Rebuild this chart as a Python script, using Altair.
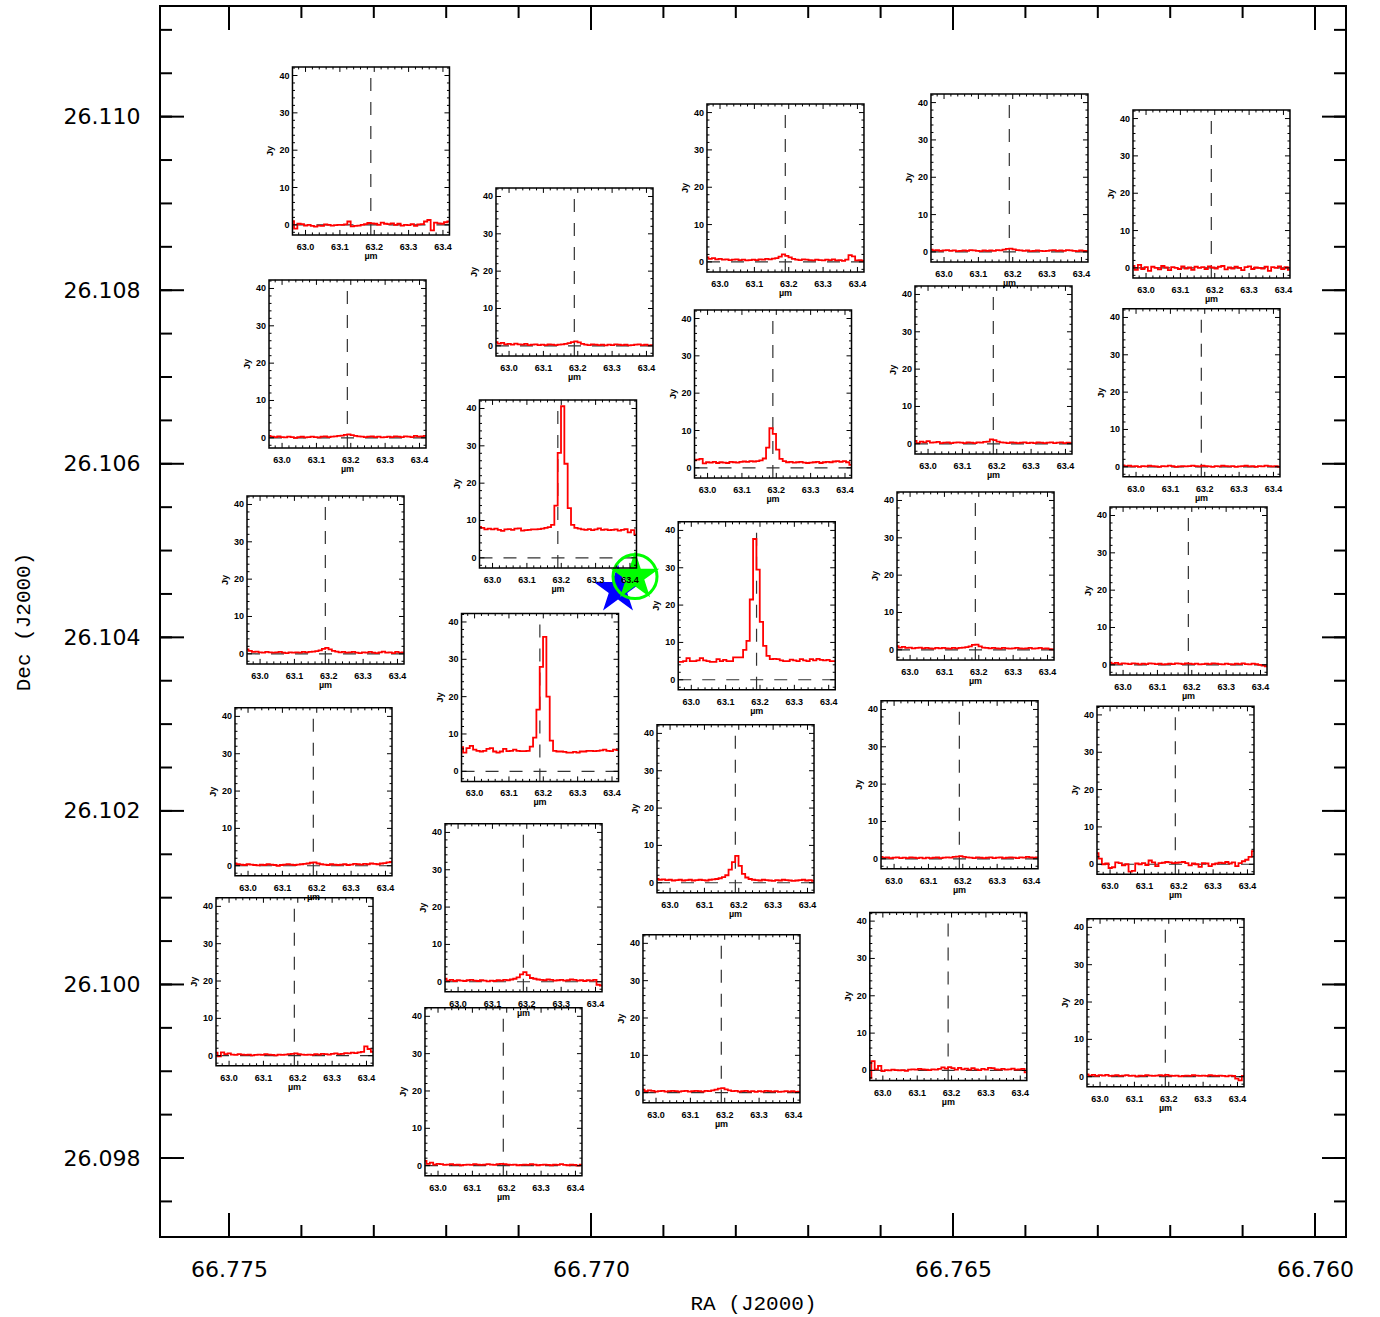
import altair as alt
import pandas as pd

# ---------------- main frame (sky coordinates) ----------------
RA_LEFT, RA_RIGHT = 66.775953, 66.759572
DEC_TOP, DEC_BOTTOM = 26.111275, 26.097090
PLOT_W, PLOT_H = 1186, 1231

RA_MAJOR = [66.775, 66.770, 66.765, 66.760]
RA_MINOR = [round(66.760 + 0.001 * k, 3) for k in range(16)]
DEC_MAJOR = [26.098, 26.100, 26.102, 26.104, 26.106, 26.108, 26.110]
DEC_MINOR = [round(26.0975 + 0.0005 * k, 4) for k in range(28)]

# ---------------- spaxel positions ----------------
SPAXELS = ["A1", "A2", "A3", "A4", "A5",
           "B1", "B2", "B3", "B4", "B5",
           "C1", "C2", "C3", "C4", "C5",
           "D1", "D2", "D3", "D4", "D5",
           "E1", "E2", "E3", "E4", "E5"]
SPAXEL_RA = [66.773039, 66.773363, 66.773667, 66.773833, 66.774095,
             66.770228, 66.770456, 66.770704, 66.770932, 66.771209,
             66.767314, 66.767486, 66.767711, 66.768004, 66.768198,
             66.764220, 66.764441, 66.764689, 66.764910, 66.765065,
             66.761430, 66.761568, 66.761747, 66.761927, 66.762065]
SPAXEL_DEC = [26.109605, 26.107151, 26.104662, 26.102220, 26.100031,
              26.108211, 26.105768, 26.103308, 26.100883, 26.098764,
              26.109178, 26.106805, 26.104363, 26.102024, 26.099605,
              26.109293, 26.107082, 26.104708, 26.102300, 26.099861,
              26.109109, 26.106817, 26.104535, 26.102237, 26.099789]

# sources
BLUE_RA, BLUE_DEC = [66.769627], [26.104547]
GREEN_RA, GREEN_DEC = [66.769392], [26.104700]

# ---------------- spectra ----------------
WAVE_EDGES = [62.9620,
              62.9665, 62.9762, 62.9859, 62.9956, 63.0053, 63.0150, 63.0247, 63.0344,
              63.0441, 63.0538, 63.0635, 63.0732, 63.0829, 63.0926, 63.1023, 63.1120,
              63.1217, 63.1314, 63.1411, 63.1508, 63.1605, 63.1702, 63.1799, 63.1896,
              63.1993, 63.2090, 63.2187, 63.2284, 63.2381, 63.2478, 63.2575, 63.2672,
              63.2769, 63.2866, 63.2963, 63.3060, 63.3157, 63.3254, 63.3351, 63.3448,
              63.3545, 63.3642, 63.3739, 63.3836, 63.3933, 63.4030, 63.4127,
              63.4190]
LINE_WAVE = 63.19

FLUX = {
    "A1": [1.0, -1.0, 0.3, 0.2, -0.2, 0.0, -0.3, -0.5,
           -0.2, -0.3, 0.1, 0.0, -0.2, -0.1, 0.0, 0.0,
           0.1, 0.9, -0.4, -0.3, -0.2, 0.0, 0.2, 0.5,
           0.4, 0.3, 0.0, 0.6, 0.3, 0.2, 0.4, 0.0,
           0.3, -0.2, 0.0, -0.1, 0.2, -0.3, 0.1, 0.2,
           0.9, 1.3, -1.5, 0.6, 0.4, 0.3, 0.7, 0.9],
    "A2": [0.5, 0.3, 0.2, 0.4, 0.2, 0.1, 0.3, 0.2,
           0.0, 0.2, 0.3, 0.1, 0.2, 0.3, 0.2, 0.1,
           0.3, 0.4, 0.2, 0.3, 0.4, 0.5, 0.6, 0.8,
           0.9, 0.7, 0.5, 0.4, 0.3, 0.2, 0.3, 0.4,
           0.2, 0.3, 0.1, 0.2, 0.3, 0.2, 0.4, 0.3,
           0.2, 0.4, 0.3, 0.2, 0.5, 0.3, 0.4, 0.5],
    "A3": [1.2, 0.8, 0.5, 0.6, 0.4, 0.3, 0.5, 0.4,
           0.3, 0.4, 0.5, 0.3, 0.2, 0.4, 0.3, 0.4,
           0.3, 0.5, 0.4, 0.5, 0.6, 0.7, 0.9, 1.3,
           1.6, 1.2, 0.8, 0.6, 0.4, 0.5, 0.3, 0.4,
           0.5, 0.3, 0.2, 0.4, 0.3, 0.5, 0.3, 0.2,
           0.4, 0.6, 0.3, 0.4, 0.2, 0.5, 0.3, 0.4],
    "A4": [0.6, 0.4, 0.3, 0.2, 0.4, 0.3, 0.2, 0.1,
           0.3, 0.2, 0.4, 0.3, 0.2, 0.0, 0.2, 0.3,
           0.4, 0.3, 0.2, 0.3, 0.4, 0.5, 0.6, 0.8,
           0.9, 0.6, 0.4, 0.3, 0.2, 0.4, 0.3, 0.2,
           0.3, 0.4, 0.2, 0.3, 0.5, 0.4, 0.3, 0.5,
           0.4, 0.6, 0.5, 0.4, 0.6, 0.7, 0.9, 1.0],
    "A5": [0.8, -0.2, 0.9, 0.4, 0.6, 0.3, 0.2, 0.4,
           0.3, 0.2, 0.3, 0.1, 0.2, 0.3, 0.2, 0.4,
           0.3, 0.2, 0.1, 0.3, 0.2, 0.3, 0.4, 0.5,
           0.6, 0.4, 0.3, 0.2, 0.3, 0.2, 0.4, 0.3,
           0.5, 0.4, 0.3, 0.5, 0.6, 0.4, 0.5, 0.7,
           0.6, 0.8, 0.7, 0.9, 1.0, 2.5, 1.8, 1.0],
    "B1": [1.0, 0.6, 0.8, 0.4, 0.5, 0.3, 0.6, 0.4,
           0.3, 0.5, 0.2, 0.3, 0.4, 0.2, 0.3, 0.2,
           0.4, 0.3, 0.2, 0.3, 0.4, 0.5, 0.7, 1.0,
           1.2, 0.9, 0.5, 0.3, 0.2, 0.4, 0.3, 0.2,
           0.3, 0.1, 0.3, 0.2, 0.4, 0.3, 0.2, 0.3,
           0.1, 0.2, 0.3, 0.4, 0.2, 0.3, 0.1, 0.2],
    "B2": [8.3, 8.0, 7.6, 7.8, 7.6, 7.8, 7.5, 7.2,
           7.6, 7.7, 7.5, 7.8, 7.9, 7.3, 7.4, 7.5,
           7.6, 7.6, 7.7, 7.8, 8.0, 8.2, 8.8, 14.0,
           28.1, 40.6, 25.2, 13.3, 8.8, 8.0, 7.8, 7.6,
           7.5, 7.7, 7.4, 7.6, 7.9, 7.5, 7.6, 7.4,
           7.5, 7.6, 7.3, 7.5, 7.7, 6.8, 7.4, 6.2],
    "B3": [6.5, 5.0, 6.2, 6.8, 5.8, 5.5, 5.3, 5.5,
           6.0, 6.2, 5.3, 5.0, 5.3, 6.0, 5.4, 5.5,
           5.8, 5.5, 5.4, 5.4, 5.5, 6.6, 9.0, 16.5,
           28.0, 36.0, 20.0, 8.2, 5.5, 5.3, 5.3, 5.2,
           5.0, 5.0, 5.2, 5.0, 5.3, 5.3, 5.5, 5.5,
           5.4, 5.5, 5.6, 5.8, 5.5, 5.4, 5.8, 5.7],
    "B4": [0.8, 0.3, 0.5, 0.2, 0.4, 0.3, 0.2, 0.4,
           0.5, 0.3, 0.2, 0.4, 0.3, 0.1, 0.3, 0.2,
           0.4, 0.3, 0.5, 0.4, 0.6, 0.8, 1.2, 2.0,
           2.6, 1.8, 1.0, 0.8, 0.6, 0.5, 0.4, 0.6,
           0.5, 0.3, 0.4, 0.5, 0.3, 0.4, 0.6, 0.5,
           0.3, 0.4, 0.2, 0.4, 0.3, 0.5, -0.8, -1.0],
    "B5": [1.3, 0.5, 0.8, 0.3, 0.5, 0.4, 0.2, 0.3,
           0.4, 0.2, 0.3, 0.1, 0.2, 0.3, 0.2, 0.4,
           0.3, 0.2, 0.3, 0.4, 0.3, 0.2, 0.4, 0.5,
           0.4, 0.3, 0.2, 0.3, 0.1, 0.2, 0.3, 0.2,
           0.4, 0.3, 0.1, 0.2, 0.3, 0.2, 0.1, 0.3,
           0.2, 0.4, 0.2, 0.1, 0.3, 0.2, 0.0, 0.3],
    "C1": [1.2, 0.8, 1.0, 0.7, 0.8, 0.6, 0.7, 0.5,
           0.6, 0.7, 0.5, 0.6, 0.4, 0.5, 0.6, 0.5,
           0.7, 0.6, 0.8, 0.7, 0.9, 1.0, 1.4, 2.0,
           1.6, 1.2, 0.8, 0.6, 0.5, 0.7, 0.6, 0.5,
           0.4, 0.6, 0.5, 0.4, 0.6, 0.5, 0.7, 0.4,
           0.5, 0.3, 0.6, 1.8, 1.5, 0.4, 0.5, 0.3],
    "C2": [2.0, 2.2, 2.4, 1.2, 1.5, 1.4, 1.6, 1.3,
           1.5, 1.4, 1.3, 1.6, 1.5, 1.4, 1.6, 1.7,
           1.6, 1.8, 1.7, 1.8, 2.0, 2.5, 5.4, 10.6,
           9.1, 4.9, 2.4, 1.8, 1.5, 1.6, 1.4, 1.5,
           1.6, 1.4, 1.3, 1.4, 1.5, 1.6, 1.3, 1.5,
           1.6, 1.5, 1.7, 1.8, 1.6, 1.8, 1.5, 0.8],
    "C3": [4.8, 4.8, 5.0, 5.8, 5.0, 5.0, 5.2, 5.8,
           5.2, 5.0, 4.8, 4.8, 5.5, 5.0, 5.3, 5.0,
           5.0, 6.0, 6.0, 6.0, 8.0, 10.4, 21.5, 37.7,
           29.5, 15.5, 9.1, 6.4, 5.5, 5.6, 5.5, 5.2,
           5.0, 5.0, 5.4, 5.2, 5.0, 5.5, 5.2, 5.0,
           5.5, 5.2, 5.6, 5.3, 5.2, 5.3, 5.0, 5.0],
    "C4": [1.0, 0.8, 0.9, 0.7, 0.8, 0.6, 0.7, 0.8,
           0.6, 0.7, 0.8, 0.6, 0.7, 0.8, 0.7, 0.6,
           0.8, 0.9, 1.0, 1.2, 1.5, 2.0, 3.5, 5.5,
           7.2, 4.5, 2.4, 1.4, 1.0, 0.8, 0.7, 0.6,
           0.8, 0.7, 0.6, 0.5, 0.7, 0.6, 0.8, 0.7,
           0.6, 0.5, 0.6, 0.7, 0.8, 0.6, 0.7, 0.5],
    "C5": [0.8, 0.4, 0.6, 0.5, 0.3, 0.4, 0.5, 0.3,
           0.4, 0.5, 0.4, 0.3, 0.4, 0.5, 0.3, 0.4,
           0.5, 0.4, 0.3, 0.5, 0.4, 0.6, 0.8, 1.1,
           1.2, 0.9, 0.6, 0.4, 0.5, 0.3, 0.4, 0.5,
           0.3, 0.4, 0.2, 0.4, 0.3, 0.5, 0.4, 0.3,
           0.4, 0.2, 0.3, 0.4, 0.3, 0.4, 0.2, 0.3],
    "D1": [0.6, 0.4, 0.5, 0.3, 0.4, 0.5, 0.3, 0.4,
           0.2, 0.3, 0.4, 0.3, 0.5, 0.4, 0.3, 0.2,
           0.4, 0.3, 0.4, 0.3, 0.5, 0.4, 0.6, 0.8,
           0.9, 0.7, 0.5, 0.4, 0.3, 0.4, 0.2, 0.3,
           0.4, 0.3, 0.2, 0.3, 0.4, 0.5, 0.3, 0.4,
           0.3, 0.5, 0.4, 0.3, 0.2, 0.4, 0.3, 0.2],
    "D2": [0.8, 0.2, 0.6, 0.4, 0.7, 0.3, 0.4, 0.5,
           0.2, 0.3, 0.4, 0.2, 0.3, 0.4, 0.3, 0.2,
           0.4, 0.3, 0.2, 0.4, 0.3, 0.5, 0.6, 1.2,
           1.0, 0.6, 0.4, 0.3, 0.2, 0.4, 0.3, 0.2,
           0.3, 0.4, 0.2, 0.3, 0.2, 0.4, 0.3, 0.2,
           0.3, 0.4, 0.2, 0.3, 0.4, 0.2, 0.3, 0.2],
    "D3": [1.0, 0.6, 0.8, 0.5, 0.6, 0.4, 0.5, 0.6,
           0.4, 0.5, 0.4, 0.3, 0.5, 0.4, 0.5, 0.4,
           0.3, 0.5, 0.4, 0.5, 0.6, 0.7, 0.9, 1.3,
           1.4, 0.9, 0.6, 0.5, 0.4, 0.5, 0.4, 0.3,
           0.5, 0.4, 0.3, 0.4, 0.5, 0.4, 0.3, 0.4,
           0.5, 0.3, 0.4, 0.5, 0.3, 0.4, 0.2, 0.1],
    "D4": [0.5, 0.3, 0.4, 0.2, 0.3, 0.4, 0.2, 0.3,
           0.2, 0.4, 0.3, 0.2, 0.3, 0.1, 0.3, 0.2,
           0.3, 0.4, 0.2, 0.3, 0.4, 0.3, 0.5, 0.6,
           0.7, 0.5, 0.4, 0.3, 0.2, 0.4, 0.3, 0.2,
           0.3, 0.4, 0.2, 0.3, 0.4, 0.2, 0.3, 0.4,
           0.3, 0.2, 0.4, 0.3, 0.5, 0.4, 0.3, 0.4],
    "D5": [-2.0, 2.5, 0.3, 1.2, -0.2, 0.1, 0.0, 0.2,
           0.1, 0.0, 0.1, -0.1, 0.2, 0.3, 0.2, 0.4,
           0.3, 0.2, 0.1, 0.3, 0.2, 0.4, 0.8, 0.5,
           0.9, 0.6, 0.2, 0.7, 0.3, 0.5, 0.2, 0.6,
           0.3, 0.1, 0.4, 0.2, 0.7, 0.6, 0.3, 0.2,
           0.4, 0.2, 0.3, 0.5, 0.2, 0.3, 0.4, -0.5],
    "E1": [0.5, -0.5, 0.8, -0.3, 0.2, -0.8, 0.3, 0.0,
           -0.4, 0.5, 0.1, -0.6, 0.2, 0.0, -0.3, 0.4,
           -0.2, 0.1, -0.5, 0.3, 0.0, 0.2, -0.3, 0.4,
           0.1, -0.2, 0.3, 0.5, -0.4, 0.1, -0.2, 0.3,
           0.0, -0.6, 0.2, 0.4, -0.3, 0.1, 0.0, -0.2,
           0.3, -0.8, 0.2, 0.0, 0.4, -0.3, 0.2, -0.5],
    "E2": [0.4, 0.2, 0.3, 0.1, 0.2, 0.0, 0.2, 0.1,
           0.3, 0.2, 0.1, 0.0, 0.2, 0.1, 0.3, 0.2,
           0.0, 0.1, 0.2, 0.1, 0.2, 0.3, 0.2, 0.1,
           0.3, 0.2, 0.1, 0.0, 0.2, 0.1, 0.3, 0.2,
           0.1, 0.2, 0.0, 0.1, 0.2, 0.3, 0.1, 0.2,
           0.0, 0.2, 0.1, 0.3, 0.2, 0.1, 0.2, 0.0],
    "E3": [0.6, 0.3, 0.5, 0.2, 0.4, 0.3, 0.2, 0.4,
           0.3, 0.1, 0.3, 0.2, 0.4, 0.3, 0.2, 0.3,
           0.1, 0.2, 0.3, 0.2, 0.4, 0.3, 0.2, 0.4,
           0.3, 0.2, 0.3, 0.1, 0.2, 0.3, 0.2, 0.4,
           0.3, 0.2, 0.1, 0.3, 0.2, 0.1, 0.3, 0.2,
           0.4, 0.2, 0.1, 0.3, 0.2, 0.0, -0.2, -0.4],
    "E4": [3.0, 1.5, 0.0, 0.2, -1.0, -0.8, 0.5, 0.3,
           -0.3, 0.0, -2.0, -1.8, 0.2, 0.0, 0.3, -0.2,
           1.0, 0.5, -0.5, 0.3, 0.4, 0.6, 0.5, 0.3,
           0.4, 0.5, 0.6, 0.3, -0.3, 0.2, 0.0, -0.7,
           0.3, 0.2, -0.5, 0.0, 0.2, 0.4, 0.3, 0.6,
           0.2, 0.5, -0.5, 0.3, 0.8, 1.2, 2.0, 3.5],
    "E5": [0.6, 0.3, 0.5, 0.2, 0.4, 0.3, 0.5, 0.2,
           0.3, 0.4, 0.2, 0.3, 0.4, 0.2, 0.3, 0.1,
           0.3, 0.2, 0.4, 0.3, 0.2, 0.3, 0.4, 0.3,
           0.5, 0.3, 0.2, 0.3, 0.1, 0.2, 0.3, 0.2,
           0.4, 0.3, 0.2, 0.3, 0.2, 0.4, 0.3, 0.2,
           0.3, 0.2, 0.1, 0.3, 0.2, -0.5, -1.0, 0.2],
}

# ---------------- inset layout (pixels) ----------------
INSET_W, INSET_H = 157, 168
WL_MIN, WL_MAX = 62.962, 63.419
JY_MIN, JY_MAX = -2.7, 42.3
WL_TICKS = [63.0, 63.1, 63.2, 63.3, 63.4]
JY_TICKS = [0, 10, 20, 30, 40]
WL_MINOR = [round(62.98 + 0.02 * k, 2) for k in range(22)]
JY_MINOR = [-2 + 2 * k for k in range(23)]

PX_RA = PLOT_W / (RA_LEFT - RA_RIGHT)
PX_DEC = PLOT_H / (DEC_TOP - DEC_BOTTOM)


def to_sky(ra_c, dec_c, u, v):
    return ra_c - (u - INSET_W / 2) / PX_RA, dec_c - (v - INSET_H / 2) / PX_DEC


def u_of(wl):
    return (wl - WL_MIN) / (WL_MAX - WL_MIN) * INSET_W


def v_of(f):
    return INSET_H - (f - JY_MIN) / (JY_MAX - JY_MIN) * INSET_H


spec_rows, frame_rows, dash_rows, tick_rows = [], [], [], []
xlab_rows, ylab_rows, unit_rows, jy_rows = [], [], [], []

for name, rc, dc in zip(SPAXELS, SPAXEL_RA, SPAXEL_DEC):
    vals = FLUX[name]
    if len(vals) != len(WAVE_EDGES) - 1:
        raise ValueError(f"{name}: {len(vals)} values")
    pts = list(zip(WAVE_EDGES[:-1], vals)) + [(WAVE_EDGES[-1], vals[-1])]
    for i, (wl, f) in enumerate(pts):
        r, d = to_sky(rc, dc, u_of(wl), v_of(f))
        spec_rows.append({"panel": name, "i": i, "ra": r, "dec": d})

    rl, dt = to_sky(rc, dc, 0, 0)
    rr, db = to_sky(rc, dc, INSET_W, INSET_H)
    frame_rows.append({"panel": name, "ra": rl, "ra2": rr, "dec": db, "dec2": dt})

    rline, _ = to_sky(rc, dc, u_of(LINE_WAVE), 0)
    dash_rows.append({"ra": rline, "ra2": rline, "dec": db, "dec2": dt})
    _, dzero = to_sky(rc, dc, 0, v_of(0))
    dash_rows.append({"ra": rl, "ra2": rr, "dec": dzero, "dec2": dzero})

    def add_tick(u1, v1, u2, v2):
        a, b = to_sky(rc, dc, u1, v1)
        c, e = to_sky(rc, dc, u2, v2)
        tick_rows.append({"ra": a, "dec": b, "ra2": c, "dec2": e})

    for wl in WL_MINOR:
        u = u_of(wl)
        ln = 5 if any(abs(wl - t) < 1e-6 for t in WL_TICKS) else 2.5
        add_tick(u, INSET_H, u, INSET_H - ln)
        add_tick(u, 0, u, ln)
    for f in JY_MINOR:
        v = v_of(f)
        ln = 5 if f in JY_TICKS else 2.5
        add_tick(0, v, ln, v)
        add_tick(INSET_W, v, INSET_W - ln, v)

    for wl in WL_TICKS:
        a, b = to_sky(rc, dc, u_of(wl), INSET_H + 12)
        xlab_rows.append({"ra": a, "dec": b, "label": f"{wl:.1f}"})
    for f in JY_TICKS:
        a, b = to_sky(rc, dc, -3, v_of(f))
        ylab_rows.append({"ra": a, "dec": b, "label": str(f)})
    a, b = to_sky(rc, dc, INSET_W / 2, INSET_H + 21)
    unit_rows.append({"ra": a, "dec": b, "label": "µm"})
    a, b = to_sky(rc, dc, -22, INSET_H / 2)
    jy_rows.append({"ra": a, "dec": b, "label": "Jy"})

spec_df = pd.DataFrame(spec_rows)
frame_df = pd.DataFrame(frame_rows)
dash_df = pd.DataFrame(dash_rows)
tick_df = pd.DataFrame(tick_rows)
xlab_df = pd.DataFrame(xlab_rows)
ylab_df = pd.DataFrame(ylab_rows)
unit_df = pd.DataFrame(unit_rows)
jy_df = pd.DataFrame(jy_rows)

# ---------------- encodings ----------------
XS = alt.Scale(domain=[RA_RIGHT, RA_LEFT], reverse=True, nice=False, zero=False)
YS = alt.Scale(domain=[DEC_BOTTOM, DEC_TOP], nice=False, zero=False)
XAX = alt.Axis(values=RA_MAJOR, format=".3f", ticks=False, domain=False, grid=False,
               labelFont="DejaVu Sans", labelFontSize=22, labelPadding=22,
               labelFlush=False, labelOverlap=False, labelColor="black",
               title="RA (J2000)", titleFont="Liberation Mono", titleFontSize=21,
               titleFontWeight="normal", titleColor="black", titlePadding=12)
YAX = alt.Axis(values=DEC_MAJOR, format=".3f", ticks=False, domain=False, grid=False,
               labelFont="DejaVu Sans", labelFontSize=22, labelPadding=20,
               labelFlush=False, labelOverlap=False, labelColor="black",
               title="Dec (J2000)", titleFont="Liberation Mono", titleFontSize=21,
               titleFontWeight="normal", titleColor="black", titlePadding=30)


def X(field="ra"):
    return alt.X(f"{field}:Q", scale=XS, axis=XAX)


def Y(field="dec"):
    return alt.Y(f"{field}:Q", scale=YS, axis=YAX)


layers = []

# main frame ticks (inward)
ra_major_df = pd.DataFrame({"ra": RA_MAJOR})
ra_minor_df = pd.DataFrame({"ra": RA_MINOR})
dec_major_df = pd.DataFrame({"dec": DEC_MAJOR})
dec_minor_df = pd.DataFrame({"dec": DEC_MINOR})
for df, ln in [(ra_minor_df, 12), (ra_major_df, 24)]:
    layers.append(alt.Chart(df).mark_rule(color="black", strokeWidth=2).encode(
        x=X(), y=alt.value(PLOT_H), y2=alt.value(PLOT_H - ln)))
    layers.append(alt.Chart(df).mark_rule(color="black", strokeWidth=2).encode(
        x=X(), y=alt.value(0), y2=alt.value(ln)))
for df, ln in [(dec_minor_df, 12), (dec_major_df, 24)]:
    layers.append(alt.Chart(df).mark_rule(color="black", strokeWidth=2).encode(
        y=Y(), x=alt.value(0), x2=alt.value(ln)))
    layers.append(alt.Chart(df).mark_rule(color="black", strokeWidth=2).encode(
        y=Y(), x=alt.value(PLOT_W), x2=alt.value(PLOT_W - ln)))

# inset backgrounds
layers.append(alt.Chart(frame_df).mark_rect(fill="white", strokeWidth=0).encode(
    x=X(), x2="ra2:Q", y=Y(), y2="dec2:Q"))
# dashed reference lines
layers.append(alt.Chart(dash_df).mark_rule(color="#333333", strokeWidth=1.2,
                                           strokeDash=[13, 11]).encode(
    x=X(), x2="ra2:Q", y=Y(), y2="dec2:Q"))
# spectra
layers.append(alt.Chart(spec_df).mark_line(color="#ff0000", strokeWidth=1.8,
                                           interpolate="step-after").encode(
    x=X(), y=Y(), detail="panel:N", order="i:Q"))

# sources (drawn beneath the inset frames and labels)
STAR = ("M0,-1L0.2245,-0.309L0.9511,-0.309L0.3633,0.118L0.5878,0.809L0,0.382"
        "L-0.5878,0.809L-0.3633,0.118L-0.9511,-0.309L-0.2245,-0.309Z")
blue_df = pd.DataFrame({"ra": BLUE_RA, "dec": BLUE_DEC})
green_df = pd.DataFrame({"ra": GREEN_RA, "dec": GREEN_DEC})
layers.append(alt.Chart(blue_df).mark_point(shape=STAR, filled=True, color="#0000ff",
                                            size=2600, opacity=1).encode(x=X(), y=Y()))
layers.append(alt.Chart(green_df).mark_point(shape=STAR, filled=True, color="#00ff00",
                                             size=2600, opacity=1).encode(x=X(), y=Y()))
layers.append(alt.Chart(green_df).mark_point(shape="circle", filled=False, color="#00ff00",
                                             strokeWidth=3, size=1936, opacity=1).encode(
    x=X(), y=Y()))

# inset frames and ticks
layers.append(alt.Chart(frame_df).mark_rect(fillOpacity=0, stroke="black",
                                            strokeWidth=1.5).encode(
    x=X(), x2="ra2:Q", y=Y(), y2="dec2:Q"))
layers.append(alt.Chart(tick_df).mark_rule(color="black", strokeWidth=1).encode(
    x=X(), x2="ra2:Q", y=Y(), y2="dec2:Q"))
# inset labels
txt = dict(font="Liberation Sans", fontWeight="bold", fontSize=9, color="black")
layers.append(alt.Chart(xlab_df).mark_text(align="center", baseline="middle", **txt).encode(
    x=X(), y=Y(), text="label:N"))
layers.append(alt.Chart(ylab_df).mark_text(align="right", baseline="middle", **txt).encode(
    x=X(), y=Y(), text="label:N"))
layers.append(alt.Chart(unit_df).mark_text(align="center", baseline="middle", **txt).encode(
    x=X(), y=Y(), text="label:N"))
layers.append(alt.Chart(jy_df).mark_text(align="center", baseline="middle", angle=270,
                                         **txt).encode(
    x=X(), y=Y(), text="label:N"))

chart = alt.layer(*layers).properties(
    width=PLOT_W, height=PLOT_H,
    padding={"left": 160, "top": 6, "right": 34, "bottom": 80},
    autosize=alt.AutoSizeParams(type="none"),
    background="white",
).configure_view(stroke="black", strokeWidth=2)

chart.save("out.html", embed_options={"renderer": "svg", "actions": False})
